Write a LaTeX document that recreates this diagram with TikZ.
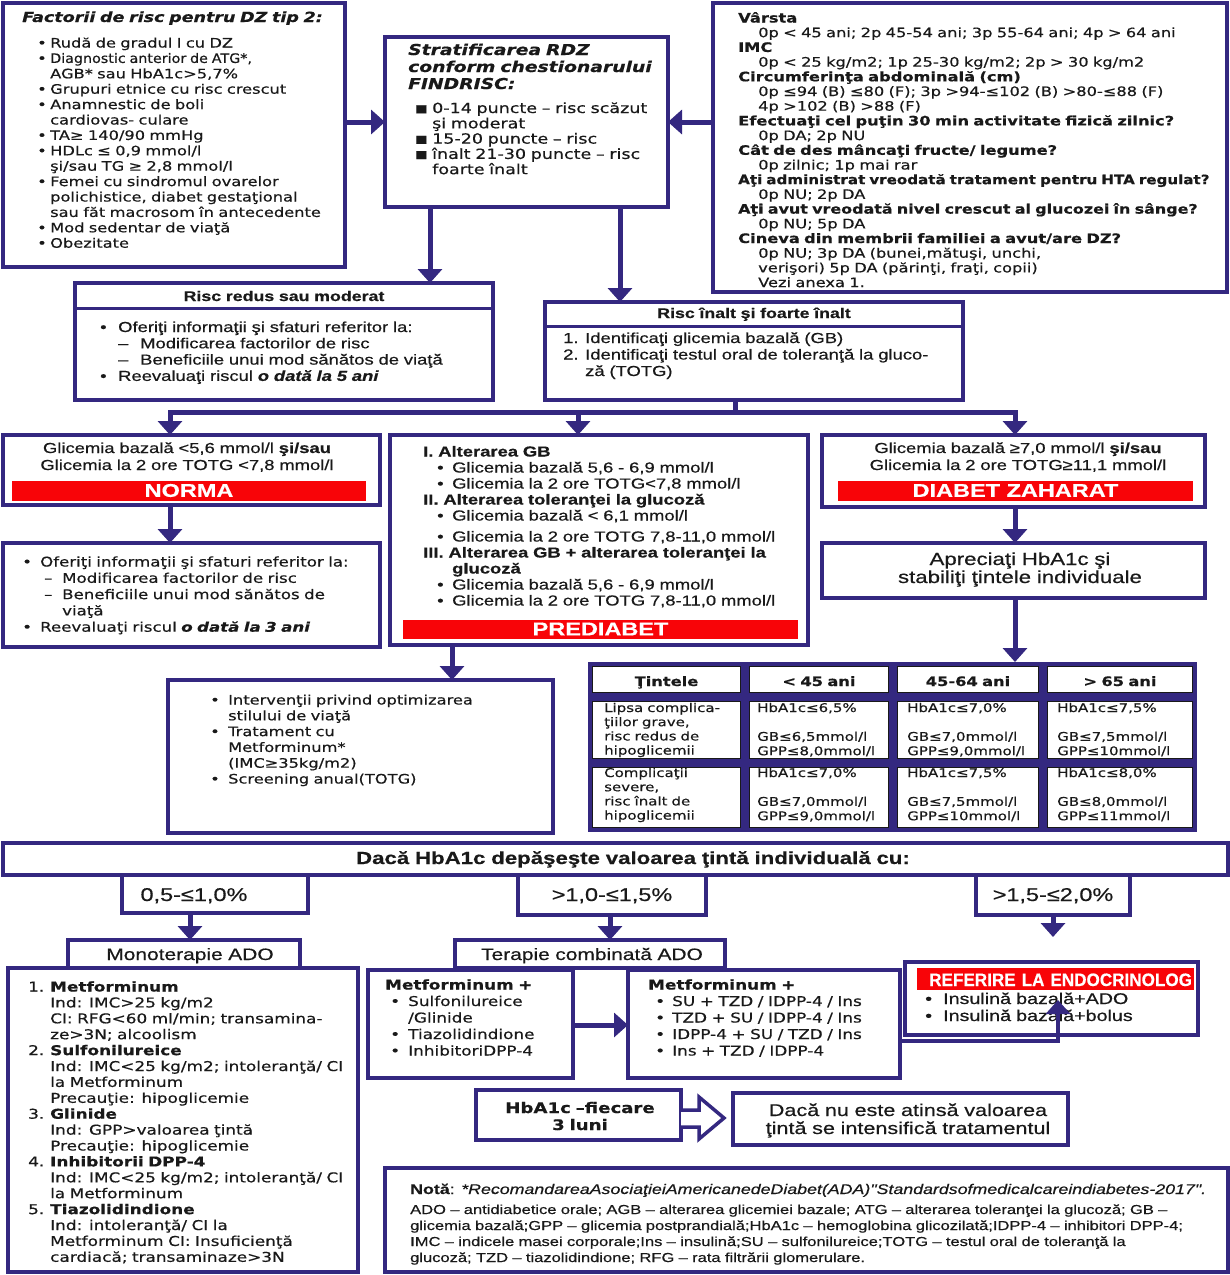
\documentclass[tikz,border=0pt]{standalone}
\usepackage{fontspec}
\usepackage{graphicx}
\setmainfont{DejaVu Sans}[FakeStretch=1.25, FakeBold=0.5]
\newfontfamily\nar{Liberation Sans}[FakeStretch=1.27, FakeBold=0.5]
\newfontfamily\cond{Liberation Sans}[FakeStretch=0.95, FakeBold=0.4]
\usetikzlibrary{arrows.meta}

\definecolor{navy}{RGB}{52,40,128}
\definecolor{barred}{RGB}{248,4,8}
\definecolor{ink}{RGB}{25,25,25}

\newlength\ind
\newcommand\fsz[2]{\fontsize{#1}{#2}\selectfont}
\newcommand\Bu{\makebox[\ind][l]{•}}
\newcommand\Sq{\makebox[\ind][l]{\raisebox{1pt}{\scalebox{0.75}{■}}}}
\newcommand\Co{\hspace*{\ind}}
\newcommand\Bx[2]{\hspace*{#1}\makebox[#2][l]{•}}
\newcommand\Nm[1]{\makebox[\ind][l]{#1}}
\newcommand\squeeze[2]{\scalebox{#1}[1]{#2}}

% box from corner (x1,y1) to corner (x2,y2), drawn as a named node
\newcommand\mkbox[6][]{%
  \pgfmathsetmacro\bxw{#5-#3}%
  \pgfmathsetmacro\bxh{#6-#4}%
  \node[bx,minimum width=\bxw pt,minimum height=\bxh pt,#1] (#2) at ({(#3+#5)/2},{(#4+#6)/2}) {};}

\tikzset{
  bx/.style={draw=navy, line width=4pt, fill=white, inner sep=0pt, outer sep=0pt},
  conn/.style={draw=navy, line width=5pt},
  arr/.style={conn, -{Triangle[width=24pt,length=14pt]}},
  tleft/.style={inner sep=0pt, anchor=base west, align=left, text width=#1, text=ink},
  tleft/.default=520pt,
  tcen/.style={inner sep=0pt, anchor=base, align=center, text width=#1, text=ink},
  tcen/.default=400pt,
  bar/.style={fill=barred, inner sep=0pt, outer sep=0pt, text=white, font=\nar\bfseries\fsz{18.5}{21}},
  cell/.style={fill=white, draw=ink, line width=0.8pt, inner sep=0pt, outer sep=0pt},
  divider/.style={draw=navy, line width=3pt},
}

\begin{document}
\begin{tikzpicture}[x=1pt,y=-1pt]
\useasboundingbox (0,0) rectangle (1230,1275);
\fill[white] (0,0) rectangle (1230,1275);

% ---------- top row ----------
\mkbox{b1}{3}{3}{345}{267}
\node[tleft, font=\fsz{14}{16}\bfseries\itshape] at (22,22) {Factorii de risc pentru DZ tip 2:};
\node[tleft, font=\fsz{13}{15.4}] at (37,47.5) {\setlength\ind{13pt}%
\Bu Rudă de gradul I cu DZ\\
\Bu \squeeze{0.88}{Diagnostic anterior de ATG*,}\\
\Co AGB* sau HbA1c>5,7\%\\
\Bu Grupuri etnice cu risc crescut\\
\Bu Anamnestic de boli\\
\Co cardiovas- culare\\
\Bu TA≥ 140/90 mmHg\\
\Bu HDLc ≤ 0,9 mmol/l\\
\Co şi/sau TG ≥ 2,8 mmol/l\\
\Bu Femei cu sindromul ovarelor\\
\Co polichistice, diabet gestaţional\\
\Co sau făt macrosom în antecedente\\
\Bu Mod sedentar de viaţă\\
\Bu Obezitate};

\mkbox{b2}{385}{37}{668}{207}
\node[tleft, font=\fsz{15}{17}\bfseries\itshape] at (408,55) {Stratificarea RDZ\\conform chestionarului\\FINDRISC:};
\node[tleft, font=\fsz{14}{15.3}] at (415,113) {\setlength\ind{17pt}%
\Sq 0-14 puncte – risc scăzut\\
\Co şi moderat\\
\Sq 15-20 puncte – risc\\
\Sq înalt 21-30 puncte – risc\\
\Co foarte înalt};

\mkbox{b3}{713}{3}{1227}{292}
\node[tleft, font=\fsz{13}{14.7}] at (738,22.5) {\setlength\ind{20pt}%
\textbf{Vârsta}\\
\Co 0p < 45 ani; 2p 45-54 ani; 3p 55-64 ani; 4p > 64 ani\\
\textbf{IMC}\\
\Co 0p < 25 kg/m2; 1p 25-30 kg/m2; 2p > 30 kg/m2\\
\textbf{Circumferinţa abdominală (cm)}\\
\Co 0p ≤94 (B) ≤80 (F); 3p >94-≤102 (B) >80-≤88 (F)\\
\Co 4p >102 (B) >88 (F)\\
\textbf{Efectuaţi cel puţin 30 min activitate fizică zilnic?}\\
\Co 0p DA; 2p NU\\
\textbf{Cât de des mâncaţi fructe/ legume?}\\
\Co 0p zilnic; 1p mai rar\\
\squeeze{0.93}{\textbf{Aţi administrat vreodată tratament pentru HTA regulat?}}\\
\Co 0p NU; 2p DA\\
\squeeze{0.98}{\textbf{Aţi avut vreodată nivel crescut al glucozei în sânge?}}\\
\Co 0p NU; 5p DA\\
\textbf{Cineva din membrii familiei a avut/are DZ?}\\
\Co 0p NU; 3p DA (bunei,mătuşi, unchi,\\
\Co verişori) 5p DA (părinţi, fraţi, copii)\\
\Co Vezi anexa 1.};

\draw[arr] (b1.east |- 0,122) -- (b2.west |- 0,122);
\draw[arr] (b3.west |- 0,122) -- (b2.east |- 0,122);

% ---------- risk level ----------
\mkbox{rr}{75}{283}{493}{400}
\draw[divider] (rr.west |- 0,308) -- (rr.east |- 0,308);
\node[tcen, font=\nar\bfseries\fsz{14}{16}] at (284,301) {Risc redus sau moderat};
\node[tleft, font=\nar\fsz{14.5}{16.3}] at (100,332) {\setlength\ind{18pt}%
\Bu Oferiţi informaţii şi sfaturi referitor la:\\
\Co\makebox[22pt][l]{–}Modificarea factorilor de risc\\
\Co\makebox[22pt][l]{–}Beneficiile unui mod sănătos de viaţă\\
\Bu Reevaluaţi riscul \textbf{\textit{o dată la 5 ani}}};

\mkbox{ri}{545}{302}{963}{400}
\draw[divider] (ri.west |- 0,326) -- (ri.east |- 0,326);
\node[tcen, font=\nar\bfseries\fsz{14}{16}] at (754,318) {Risc înalt şi foarte înalt};
\node[tleft, font=\nar\fsz{14.5}{16.5}] at (563,343) {\setlength\ind{22pt}%
\Nm{1.}Identificaţi glicemia bazală (GB)\\
\Nm{2.}Identificaţi testul oral de toleranţă la gluco-\\
\Co ză (TOTG)};

\draw[arr] (b2.south -| 430,0) -- (rr.north -| 430,0);
\draw[arr] (b2.south -| 620,0) -- (ri.north -| 620,0);

\coordinate (busC) at (735,412);
\coordinate (busL) at (170,412);
\coordinate (busM) at (578,412);
\coordinate (busR) at (1015,412);
\draw[conn] (ri.south -| busC) -- (busC);
\draw[conn, line cap=rect] (busL) -- (busR);

% ---------- diagnosis row ----------
\mkbox{nm}{3}{435}{380}{505}
\node[tcen=370pt, font=\nar\fsz{14.5}{17}] at (187,453) {Glicemia bazală <5,6 mmol/l \textbf{şi/sau}\\Glicemia la 2 ore TOTG <7,8 mmol/l};
\node[bar, minimum width=354pt, minimum height=20pt] (nmbar) at (189,490.5) {NORMA};

\mkbox{pd}{390}{435}{808}{645}
\node[tleft, font=\nar\fsz{14.5}{16}] at (423,456.5) {%
\textbf{I. Alterarea GB}\\
\Bx{14pt}{15pt}Glicemia bazală 5,6 - 6,9 mmol/l\\
\Bx{14pt}{15pt}Glicemia la 2 ore TOTG<7,8 mmol/l\\
\textbf{II. Alterarea toleranţei la glucoză}\\
\Bx{14pt}{15pt}Glicemia bazală < 6,1 mmol/l\\[5pt]
\Bx{14pt}{15pt}Glicemia la 2 ore TOTG 7,8-11,0 mmol/l\\
\textbf{III. Alterarea GB + alterarea toleranţei la}\\
\hspace*{29pt}\textbf{glucoză}\\
\Bx{14pt}{15pt}Glicemia bazală 5,6 - 6,9 mmol/l\\
\Bx{14pt}{15pt}Glicemia la 2 ore TOTG 7,8-11,0 mmol/l};
\node[bar, minimum width=395pt, minimum height=19pt] (pdbar) at (600.5,629) {PREDIABET};

\mkbox{dz}{822}{435}{1205}{507}
\node[tcen=370pt, font=\nar\fsz{14.5}{17}] at (1018,453) {Glicemia bazală ≥7,0 mmol/l \textbf{şi/sau}\\Glicemia la 2 ore TOTG≥11,1 mmol/l};
\node[bar, minimum width=355pt, minimum height=20pt] (dzbar) at (1015.5,490.5) {DIABET ZAHARAT};

\draw[arr] (busL) -- (nm.north -| busL);
\draw[arr] (busM) -- (pd.north -| busM);
\draw[arr] (busR) -- (dz.north -| busR);

% ---------- follow-up row ----------
\mkbox{of}{3}{543}{380}{647}
\node[tleft, font=\fsz{13.3}{16.3}] at (22,566.5) {\setlength\ind{18pt}%
\Bu Oferiţi informaţii şi sfaturi referitor la:\\
\Co\makebox[22pt][l]{\hspace{4pt}–}Modificarea factorilor de risc\\
\Co\makebox[22pt][l]{\hspace{4pt}–}Beneficiile unui mod sănătos de\\
\hspace*{40pt}viaţă\\
\Bu Reevaluaţi riscul \textbf{\textit{o dată la 3 ani}}};

\mkbox{iv}{168}{680}{553}{833}
\node[tleft, font=\fsz{13}{15.8}] at (210,704.5) {\setlength\ind{18pt}%
\Bu Intervenţii privind optimizarea\\
\Co stilului de viaţă\\
\Bu Tratament cu\\
\Co Metforminum*\\
\Co (IMC≥35kg/m2)\\
\Bu Screening anual(TOTG)};

\mkbox{ap}{822}{543}{1205}{598}
\node[tcen=370pt, font=\nar\fsz{17.5}{18}] at (1020,565) {Apreciaţi HbA1c şi\\stabiliţi ţintele individuale};

\draw[arr] (nm.south -| 170,0) -- (of.north -| 170,0);
\draw[arr] (pd.south -| 452,0) -- (iv.north -| 452,0);
\draw[arr] (dz.south -| 1015,0) -- (ap.north -| 1015,0);

% ---------- targets table ----------
\mkbox[fill=navy, line width=0pt, draw=none]{tb}{588}{662}{1197}{832}
\foreach \xa/\xb/\c in {588/745/1,745/893/2,893/1043/3,1043/1197/4}
  \foreach \ya/\yb/\r in {662/697/1,697/763/2,763/832/3}
    \node[cell, minimum width={\xb-\xa-9}, minimum height={\yb-\ya-9}] (cell-\c-\r) at ({(\xa+\xb)/2},{(\ya+\yb)/2}) {};
\draw[arr] (ap.south -| 1015,0) -- (tb.north -| 1015,0);

\node[tcen=140pt, font=\fsz{13}{15}\bfseries] at (666.5,686) {Ţintele};
\node[tcen=140pt, font=\fsz{13}{15}\bfseries] at (819,686) {< 45 ani};
\node[tcen=140pt, font=\fsz{13}{15}\bfseries] at (968,686) {45-64 ani};
\node[tcen=140pt, font=\fsz{13}{15}\bfseries] at (1120,686) {> 65 ani};

\node[tleft=140pt, font=\fsz{12}{14.2}] at (604,712) {Lipsa complica-\\ţiilor grave,\\risc redus de\\hipoglicemii};
\node[tleft=140pt, font=\fsz{12}{14.2}] at (604,777) {Complicaţii\\severe,\\risc înalt de\\hipoglicemii};
\node[tleft=140pt, font=\fsz{12}{14.4}] at (757,712) {HbA1c≤6,5\%\\\mbox{}\\GB≤6,5mmol/l\\GPP≤8,0mmol/l};
\node[tleft=140pt, font=\fsz{12}{14.4}] at (907,712) {HbA1c≤7,0\%\\\mbox{}\\GB≤7,0mmol/l\\GPP≤9,0mmol/l};
\node[tleft=140pt, font=\fsz{12}{14.4}] at (1057,712) {HbA1c≤7,5\%\\\mbox{}\\GB≤7,5mmol/l\\GPP≤10mmol/l};
\node[tleft=140pt, font=\fsz{12}{14.4}] at (757,777) {HbA1c≤7,0\%\\\mbox{}\\GB≤7,0mmol/l\\GPP≤9,0mmol/l};
\node[tleft=140pt, font=\fsz{12}{14.4}] at (907,777) {HbA1c≤7,5\%\\\mbox{}\\GB≤7,5mmol/l\\GPP≤10mmol/l};
\node[tleft=140pt, font=\fsz{12}{14.4}] at (1057,777) {HbA1c≤8,0\%\\\mbox{}\\GB≤8,0mmol/l\\GPP≤11mmol/l};

% ---------- treatment ----------
\mkbox{hb}{3}{843}{1228}{875}
\node[tcen=900pt, font=\nar\bfseries\fsz{17.5}{20}] at (633,864) {Dacă HbA1c depăşeşte valoarea ţintă individuală cu:};

\mkbox{r1}{122}{875}{308}{913}
\mkbox{r2}{518}{875}{706}{915}
\mkbox{r3}{976}{875}{1130}{915}
\node[tcen=150pt, font=\nar\fsz{18.5}{19}] at (194,901) {0,5-≤1,0\%};
\node[tcen=180pt, font=\nar\fsz{18.5}{19}] at (612,901) {>1,0-≤1,5\%};
\node[tcen=150pt, font=\nar\fsz{18.5}{19}] at (1053,901) {>1,5-≤2,0\%};

\mkbox{ml}{8}{968}{358}{1272}
\mkbox{mo}{68}{940}{300}{968}
\node[tcen=220pt, font=\nar\fsz{16.5}{18}] at (190,960) {Monoterapie ADO};
\node[tleft, font=\fsz{13.5}{15.9}] at (28,991.5) {\setlength\ind{22pt}%
\Nm{1.}\textbf{Metforminum}\\
\Co Ind: IMC>25 kg/m2\\
\Co CI: RFG<60 ml/min; transamina-\\
\Co ze>3N; alcoolism\\
\Nm{2.}\textbf{Sulfonilureice}\\
\Co Ind: IMC<25 kg/m2; intoleranţă/ CI\\
\Co la Metforminum\\
\Co Precauţie: hipoglicemie\\
\Nm{3.}\textbf{Glinide}\\
\Co Ind: GPP>valoarea ţintă\\
\Co Precauţie: hipoglicemie\\
\Nm{4.}\textbf{Inhibitorii DPP-4}\\
\Co Ind: IMC<25 kg/m2; intoleranţă/ CI\\
\Co la Metforminum\\
\Nm{5.}\textbf{Tiazolidindione}\\
\Co Ind: intoleranţă/ CI la\\
\Co Metforminum CI: Insuficienţă\\
\Co cardiacă; transaminaze>3N};

\mkbox{c1}{368}{970}{573}{1078}
\mkbox{c2}{628}{970}{900}{1078}
\mkbox{tcb}{455}{940}{725}{968}
\node[tcen=260pt, font=\nar\fsz{16.5}{18}] at (592,960) {Terapie combinată ADO};
\node[tleft=200pt, font=\fsz{13.5}{16.5}] at (385,989.5) {%
\textbf{Metforminum +}\\
\Bx{5pt}{18pt}Sulfonilureice\\
\hspace*{23pt}/Glinide\\
\Bx{5pt}{18pt}Tiazolidindione\\
\Bx{5pt}{18pt}InhibitoriDPP-4};
\node[tleft=260pt, font=\fsz{13.5}{16.5}] at (648,989.5) {%
\textbf{Metforminum +}\\
\Bx{7pt}{17pt}SU + TZD / IDPP-4 / Ins\\
\Bx{7pt}{17pt}TZD + SU / IDPP-4 / Ins\\
\Bx{7pt}{17pt}IDPP-4 + SU / TZD / Ins\\
\Bx{7pt}{17pt}Ins + TZD / IDPP-4};

\draw[arr] (r1.south -| 190,0) -- (mo.north -| 190,0);
\draw[arr] (r2.south -| 610,0) -- (tcb.north -| 610,0);
\coordinate (refin) at (1053,937);
\draw[arr] (r3.south -| refin) -- (refin);
\draw[arr] (c1.east |- 0,1025) -- (c2.west |- 0,1025);

\mkbox{re}{905}{962}{1198}{1035}
\node[bar, minimum width=277pt, minimum height=22pt] (rebar) at (1055.5,979) {};
\begin{scope}
  \clip (rebar.north west) rectangle (rebar.south east);
  \node[tleft=300pt, font=\cond\bfseries\fsz{18}{19}, text=white] at (929,986) {REFERIRE LA ENDOCRINOLOG};
\end{scope}
\node[tleft=270pt, font=\nar\fsz{15.5}{17}] at (925,1004) {\setlength\ind{18pt}%
\Bu Insulină bazală+ADO\\
\Bu Insulină bazală+bolus};
\coordinate (elb) at (1058,1000);
\draw[arr, line width=4pt] ([shift={(-4,6)}]re.south west) -| (elb);

% ---------- monitoring ----------
\mkbox{h3}{476}{1090}{681}{1140}
\node[tcen=200pt, font=\fsz{14.5}{17}\bfseries] at (580,1113) {HbA1c –fiecare\\3 luni};
\mkbox{dn}{733}{1093}{1068}{1145}
\node[tcen=330pt, font=\nar\fsz{17}{18}] at (908,1116) {Dacă nu este atinsă valoarea\\ţintă se intensifică tratamentul};
\draw[navy, line width=3.5pt, fill=white, line join=miter]
  (h3.east |- 0,1110) -- (699,1110) -- (699,1097) -- (724,1118) -- (699,1139) -- (699,1127) -- (h3.east |- 0,1127);

% ---------- note ----------
\mkbox{nt}{385}{1168}{1228}{1272}
\node[tleft=830pt, font=\nar\fsz{13}{16}] at (410,1194) {%
{\fsz{14}{16}\textbf{Notă}: \textit{*RecomandareaAsociaţieiAmericanedeDiabet(ADA)"Standardsofmedicalcareindiabetes-2017".}}\\[4pt]
ADO – antidiabetice orale; AGB – alterarea glicemiei bazale; ATG – alterarea toleranţei la glucoză; GB –\\
glicemia bazală;GPP – glicemia postprandială;HbA1c – hemoglobina glicozilată;IDPP-4 – inhibitori DPP-4;\\
IMC – indicele masei corporale;Ins – insulină;SU – sulfonilureice;TOTG – testul oral de toleranţă la\\
glucoză; TZD – tiazolidindione; RFG – rata filtrării glomerulare.};

\end{tikzpicture}
\end{document}
